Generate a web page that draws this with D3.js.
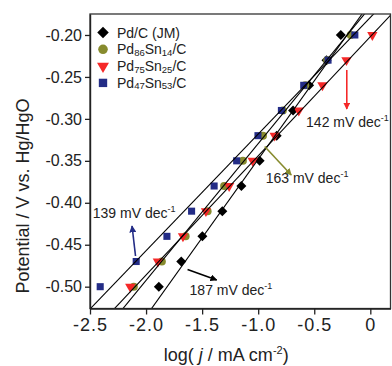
<!DOCTYPE html>
<html>
<head>
<meta charset="utf-8">
<script src="https://cdn.jsdelivr.net/npm/d3@7"></script>
<style>
  body { margin: 0; background: #fff; }
  svg text { font-family: "Liberation Sans", Arial, sans-serif; }
</style>
</head>
<body>
<div id="chart"></div>
<script>
// potentials (V vs. Hg/HgO) where each series was sampled
var potentials = [-0.50, -0.47, -0.44, -0.41, -0.38, -0.35, -0.32, -0.29, -0.26, -0.23, -0.20];

// log(j / mA cm-2), one value per potential
var pdJM   = [-1.886, -1.686, -1.498, -1.320, -1.150, -0.987, -0.835, -0.689, -0.546, -0.391, -0.263];
var pd86   = [-2.109, -1.859, -1.647, -1.451, -1.304, -1.136, -0.957, -0.780, -0.580, -0.385, -0.175];
var pd75   = [-2.141, -1.895, -1.671, -1.466, -1.259, -1.049, -0.853, -0.638, -0.427, -0.213, 0.018];
var pd47   = [-2.409, -2.088, -1.814, -1.594, -1.393, -1.192, -1.002, -0.793, -0.594, -0.377, -0.138];

// Tafel fits: slope (V/dec) and potential at log j = 0
var tafelSlopes = [0.187, 0.163, 0.142, 0.139];
var tafelIntercepts = [-0.1612, -0.1665, -0.2021, -0.1791];

var seriesNames = [["Pd/C (JM)"], ["Pd", "86", "Sn", "14", "/C"], ["Pd", "75", "Sn", "25", "/C"], ["Pd", "47", "Sn", "53", "/C"]];
var slopeLabels = ["187", "163", "142", "139"];

var xTicks = [-2.5, -2.0, -1.5, -1.0, -0.5, 0];
var yTicks = [-0.50, -0.45, -0.40, -0.35, -0.30, -0.25, -0.20];

var colors = ["#000000", "#878b2e", "#f52828", "#232c86"];
var series = [pdJM, pd86, pd75, pd47];

var width = 392, height = 366;
var plotLeft = 90, plotRight = 390.5, plotTop = 14, plotBottom = 308.5;

var svg = d3.select("#chart").append("svg")
  .attr("width", width)
  .attr("height", height);

var x = d3.scaleLinear().domain([-2.5, 0.18]).range([plotLeft, plotRight]);
var y = d3.scaleLinear().domain([-0.526, -0.175]).range([plotBottom, plotTop]);

var defs = svg.append("defs");
defs.append("clipPath").attr("id", "plotclip")
  .append("rect")
  .attr("x", plotLeft).attr("y", plotTop)
  .attr("width", plotRight - plotLeft).attr("height", plotBottom - plotTop);

// symbols: diamond (rotated square), circle, down triangle, square
var symbols = [
  function(s) { return d3.symbol().type(d3.symbolSquare).size(s)(); },
  function(s) { return d3.symbol().type(d3.symbolCircle).size(s)(); },
  function(s) { return d3.symbol().type(d3.symbolTriangle).size(s)(); },
  function(s) { return d3.symbol().type(d3.symbolSquare).size(s)(); }
];
var rotations = [45, 0, 180, 0];
var plotSizes = [50, 50, 46, 50];
var legendSizes = [66, 72, 62, 70];

// data points (drawn in legend order, last on top)
series.forEach(function(vals, i) {
  svg.append("g")
    .selectAll("path")
    .data(vals)
    .enter().append("path")
    .attr("d", symbols[i](plotSizes[i]))
    .attr("transform", function(d, k) {
      return "translate(" + x(d) + "," + y(potentials[k]) + ") rotate(" + rotations[i] + ")";
    })
    .style("fill", colors[i]);
});

// Tafel fit lines
var fitLines = svg.append("g").attr("clip-path", "url(#plotclip)");
tafelSlopes.forEach(function(b, i) {
  var a = tafelIntercepts[i];
  var e0 = -0.54, e1 = -0.16;
  fitLines.append("line")
    .attr("x1", x((e0 - a) / b)).attr("y1", y(e0))
    .attr("x2", x((e1 - a) / b)).attr("y2", y(e1))
    .style("stroke", "#000")
    .style("stroke-width", 1.1);
});

// frame
svg.append("rect")
  .attr("x", plotLeft).attr("y", plotTop)
  .attr("width", plotRight - plotLeft).attr("height", plotBottom - plotTop)
  .style("fill", "none")
  .style("stroke", "#333")
  .style("stroke-width", 1.3);

// axes
var xAxis = svg.append("g")
  .attr("transform", "translate(0," + plotBottom + ")")
  .call(d3.axisBottom(x).tickValues(xTicks).tickSize(6).tickSizeOuter(0).tickPadding(4)
    .tickFormat(function(d) { return d === 0 ? "0" : d.toFixed(1); }));
xAxis.selectAll("text").style("font-size", "18px").style("letter-spacing", "1px").style("fill", "#222");

var yAxis = svg.append("g")
  .attr("transform", "translate(" + plotLeft + ",0)")
  .call(d3.axisLeft(y).tickValues(yTicks).tickSize(5).tickSizeOuter(0).tickPadding(3)
    .tickFormat(function(d) { return d.toFixed(2); }));
yAxis.selectAll("text").style("font-size", "16px").style("fill", "#222");

[xAxis, yAxis].forEach(function(g) {
  g.select(".domain").style("stroke", "#222").style("stroke-width", 1.4);
  g.selectAll(".tick line").style("stroke", "#222").style("stroke-width", 1.3);
});

// axis titles
var xt = svg.append("text")
  .attr("x", (plotLeft + plotRight) / 2 - 14).attr("y", 361)
  .attr("text-anchor", "middle")
  .style("font-size", "18px").style("fill", "#222");
xt.append("tspan").text("log( ");
xt.append("tspan").style("font-style", "italic").text("j");
xt.append("tspan").text(" / mA cm");
xt.append("tspan").attr("dy", -7).style("font-size", "11px").text("-2");
xt.append("tspan").attr("dy", 7).text(")");

svg.append("text")
  .attr("transform", "translate(29,196) rotate(-90)")
  .attr("text-anchor", "middle")
  .style("font-size", "18px").style("fill", "#222")
  .text("Potential / V vs. Hg/HgO");

// legend
var legend = svg.append("g");
seriesNames.forEach(function(parts, i) {
  var cy = 32.5 + i * 16.8;
  legend.append("path")
    .attr("d", symbols[i](legendSizes[i]))
    .attr("transform", "translate(103," + cy + ") rotate(" + rotations[i] + ")")
    .style("fill", colors[i]);
  var t = legend.append("text")
    .attr("x", 117).attr("y", cy + 5)
    .style("font-size", "14px").style("fill", "#222");
  parts.forEach(function(p, k) {
    var sub = k % 2 === 1;
    t.append("tspan")
      .attr("dy", sub ? 1.5 : (k > 0 ? -1.5 : 0))
      .style("font-size", sub ? "9.5px" : "14px")
      .text(p);
  });
});

// slope annotations: arrow start/end and label anchor, in data units
var notes = [
  { i: 0, from: [-1.63, -0.4795], to: [-1.37, -0.4920], label: [-1.612, -0.5105] },
  { i: 1, from: [-0.942, -0.3329], to: [-0.705, -0.3669], label: [-0.933, -0.3764] },
  { i: 2, from: [-0.210, -0.2417], to: [-0.210, -0.2882], label: [-0.573, -0.3093] },
  { i: 3, from: [-2.094, -0.4634], to: [-2.125, -0.4277], label: [-2.475, -0.4185] }
];

colors.forEach(function(c, i) {
  defs.append("marker")
    .attr("id", "arrow" + i)
    .attr("viewBox", "0 0 10 10")
    .attr("refX", 9).attr("refY", 5)
    .attr("markerWidth", 7).attr("markerHeight", 7)
    .attr("markerUnits", "userSpaceOnUse")
    .attr("orient", "auto")
    .append("path")
    .attr("d", "M0,0 L10,5 L0,10 z")
    .style("fill", c);
});

notes.forEach(function(n) {
  svg.append("line")
    .attr("x1", x(n.from[0])).attr("y1", y(n.from[1]))
    .attr("x2", x(n.to[0])).attr("y2", y(n.to[1]))
    .style("stroke", colors[n.i])
    .style("stroke-width", 1.6)
    .attr("marker-end", "url(#arrow" + n.i + ")");
  var t = svg.append("text")
    .attr("x", x(n.label[0])).attr("y", y(n.label[1]))
    .style("font-size", "14px").style("fill", "#222");
  t.append("tspan").text(slopeLabels[n.i] + " mV dec");
  t.append("tspan").attr("dy", -6).style("font-size", "9px").text("-1");
});
</script>
</body>
</html>
